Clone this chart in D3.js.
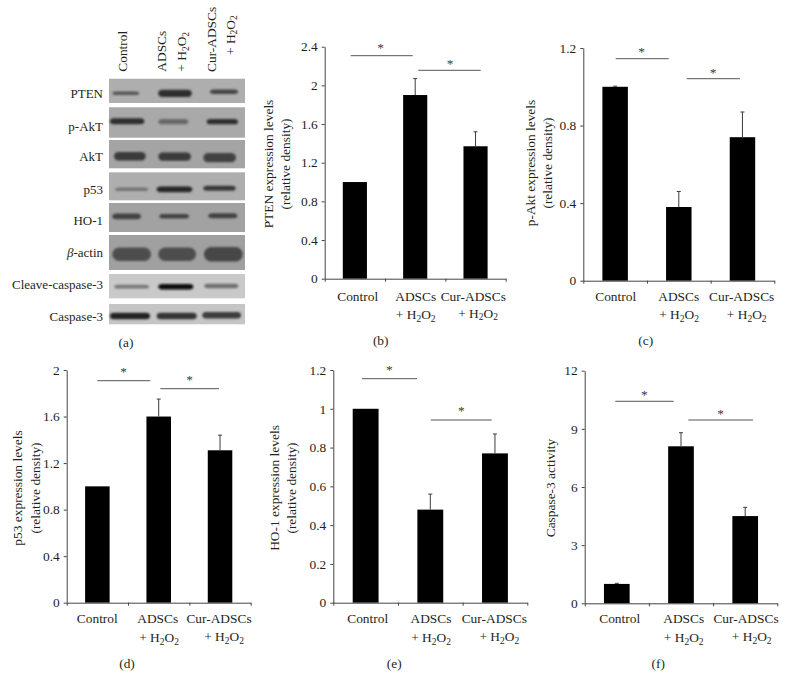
<!DOCTYPE html>
<html><head><meta charset="utf-8">
<script src="https://cdn.jsdelivr.net/npm/d3@7/dist/d3.min.js"></script>
<style>
html,body{margin:0;padding:0;background:#fff}
svg{display:block}
text{font-family:"Liberation Serif",serif;fill:#231f20;font-size:13.4px}
</style></head><body>
<svg id="c" width="786" height="679"></svg>
<script>
// ---------- data ----------
const categories = ["Control", "ADSCs", "Cur-ADSCs"];

const ptenValues = [1, 1.9, 1.37];
const ptenErrors = [0, 0.17, 0.15];
const ptenTicks = [0, 0.4, 0.8, 1.2, 1.6, 2, 2.4];

const aktValues = [1, 0.38, 0.74];
const aktErrors = [0.003, 0.08, 0.13];
const aktTicks = [0, 0.4, 0.8, 1.2];

const p53Values = [1, 1.6, 1.31];
const p53Errors = [0, 0.15, 0.13];
const p53Ticks = [0, 0.4, 0.8, 1.2, 1.6, 2];

const hoValues = [1, 0.48, 0.77];
const hoErrors = [0, 0.08, 0.1];
const hoTicks = [0, 0.2, 0.4, 0.6, 0.8, 1, 1.2];

const caspValues = [1, 8.1, 4.5];
const caspErrors = [0.03, 0.7, 0.45];
const caspTicks = [0, 3, 6, 9, 12];

const blotRows = ["PTEN", "p-AkT", "AkT", "p53", "HO-1", "β-actin", "Cleave-caspase-3", "Caspase-3"];
const blotIntensity = [
  [0.42, 0.72, 0.55],
  [0.72, 0.28, 0.72],
  [0.62, 0.62, 0.56],
  [0.2, 0.78, 0.64],
  [0.56, 0.56, 0.58],
  [0.48, 0.48, 0.54],
  [0.16, 1, 0.22],
  [0.8, 0.68, 0.6]
];

// ---------- layout ----------
const panels = [
 {id:"b",v:ptenValues,e:ptenErrors,t:ptenTicks,l:["PTEN expression levels","(relative density)"],
  x0:324.7,x1:505.7,y0:278.7,y1:46.7,lx:[268,285],ly:164,
  cat:[[357.7,300.7],[415.7,300.7],[473.3,300.7]],sub:[[415.7,319],[478,317.5]],
  sig:[[350.7,412.7,55.7,380.7,52],[418.3,480.7,70.3,450,68]],tag:[380.7,345]},
 {id:"c",v:aktValues,e:aktErrors,t:aktTicks,l:["p-Akt expression levels","(relative density)"],
  x0:583.3,x1:774.3,y0:280.7,y1:48,lx:[530,547],ly:163,
  cat:[[615.7,300.7],[678.7,300.7],[741.7,300.7]],sub:[[679,319],[746.7,319]],
  sig:[[615.7,668.7,58.7,641.7,55.5],[686.7,740,78.7,713,76.5]],tag:[645.7,345]},
 {id:"d",v:p53Values,e:p53Errors,t:p53Ticks,l:["p53 expression levels","(relative density)"],
  x0:66.7,x1:250.7,y0:602.7,y1:370,lx:[17,35],ly:488,
  cat:[[97.3,623.3],[157.7,623.3],[219,623.3]],sub:[[159,642],[224,641]],
  sig:[[97.3,150.3,380.7,123.7,376],[160.3,219,388.7,189.7,383.5]],tag:[127,668]},
 {id:"e",v:hoValues,e:hoErrors,t:hoTicks,l:["HO-1 expression levels","(relative density)"],
  x0:333.3,x1:527.3,y0:602.7,y1:370,lx:[274,291.7],ly:488,
  cat:[[367.7,623.3],[431,623.3],[494.3,623.3]],sub:[[431,642],[499.3,641]],
  sig:[[362,417,378.7,389.3,373.5],[430.7,491.7,420,461.3,415]],tag:[394.3,668]},
 {id:"f",v:caspValues,e:caspErrors,t:caspTicks,l:["Caspase-3 activity"],
  x0:584.7,x1:777.3,y0:603.3,y1:370.7,lx:[550],ly:488,
  cat:[[619.7,623.3],[683.7,623.3],[746,623.3]],sub:[[683.7,642],[751.7,641]],
  sig:[[615.3,673.7,401.3,644.3,398.5],[688.3,753,420,720.7,417.5]],tag:[658.3,668]}
];

const svg = d3.select("#c");

function h2o2(sel){
  sel.append("tspan").text("+ H");
  sel.append("tspan").attr("dy",2.5).style("font-size","9.5px").text("2");
  sel.append("tspan").attr("dy",-2.5).text("O");
  sel.append("tspan").attr("dy",2.5).style("font-size","9.5px").text("2");
}

panels.forEach(p=>{
  const g = svg.append("g").attr("id","panel-"+p.id);
  const x = d3.scaleBand().domain(categories).range([p.x0,p.x1]).paddingInner(0.6).paddingOuter(0.3);
  const y = d3.scaleLinear().domain([0,d3.max(p.t)]).range([p.y0,p.y1]);
  const xEdges = d3.scaleLinear().domain([0,3]).range([p.x0,p.x1]);

  // bars
  g.selectAll("rect.bar").data(p.v).join("rect").attr("class","bar")
    .attr("x",(d,i)=>x(categories[i])).attr("width",x.bandwidth())
    .attr("y",d=>y(d)).attr("height",d=>y(0)-y(d)).attr("fill","#000");

  // error bars
  const cx = i=>x(categories[i])+x.bandwidth()/2;
  p.e.forEach((err,i)=>{
    if(!err) return;
    const top=y(p.v[i]+err);
    g.append("line").attr("x1",cx(i)).attr("x2",cx(i)).attr("y1",y(p.v[i])).attr("y2",top).attr("stroke","#3c3c3c").attr("stroke-width",1);
    g.append("line").attr("x1",cx(i)-2).attr("x2",cx(i)+2).attr("y1",top).attr("y2",top).attr("stroke","#3c3c3c").attr("stroke-width",1);
  });

  // axes
  const ay = g.append("g").attr("transform",`translate(${p.x0},0)`)
    .call(d3.axisLeft(y).tickValues(p.t).tickSize(3).tickSizeOuter(0).tickPadding(4).tickFormat(d3.format("~g")));
  const ax = g.append("g").attr("transform",`translate(0,${p.y0})`)
    .call(d3.axisBottom(xEdges).tickValues([0,1,2,3]).tickSize(3).tickSizeOuter(0).tickFormat(""));
  [ay,ax].forEach(a=>{a.selectAll("path,line").attr("stroke","#444").attr("stroke-width",1);a.attr("font-family",null).attr("font-size",null);});

  // y title
  p.l.forEach((t,i)=>g.append("text").attr("text-anchor","middle")
    .attr("transform",`translate(${p.lx[i]+4.5},${p.ly}) rotate(-90)`).text(t));

  // categories
  p.cat.forEach((c,i)=>g.append("text").attr("x",c[0]).attr("y",c[1]).attr("text-anchor","middle").text(categories[i]));
  p.sub.forEach(c=>g.append("text").attr("x",c[0]).attr("y",c[1]).attr("text-anchor","middle").call(h2o2));

  // significance
  p.sig.forEach(s=>{
    g.append("line").attr("x1",s[0]).attr("x2",s[1]).attr("y1",s[2]).attr("y2",s[2]).attr("stroke","#555").attr("stroke-width",1);
    g.append("text").attr("x",s[3]).attr("y",s[4]).attr("text-anchor","middle").style("fill","#3a3a3a").text("*");
  });

  g.append("text").attr("x",p.tag[0]).attr("y",p.tag[1]).attr("text-anchor","middle").text(`(${p.id})`);
});

// ---------- blot panel (a) ----------
const blotBoxes = [[78.7,103,"#aeaeae",98],[107.3,137.7,"#a9a9a9",131],[140,168.3,"#a4a4a4",161],[172.3,200.3,"#aeaeae",194],
  [203,232,"#a2a2a2",225],[235,270,"#a0a0a0",257],[274,298.3,"#c9c9c9",289],[304,324.3,"#c5c5c5",321]];
const blotBands = [
 [[112.3,139.3,93.3,1.8],[158.3,191.7,93.3,3.6],[210,238,91.7,2.2]],
 [[110,144.3,121.3,3],[158.3,188.3,121.7,2.6],[206.7,238,121.7,2.6]],
 [[114,145.7,156.3,4.2],[158.3,191,156.6,4.2],[203.3,236,157.7,4.6]],
 [[115,148.3,189.3,1.8],[156.7,192.3,189.3,2.9],[203.3,235.7,188.3,2.5]],
 [[112.3,141,216.3,2.9],[159.3,189,216.3,2.2],[208.3,237.3,215.7,2.5]],
 [[112.3,151,254.3,6.7],[158.3,196,254.3,6.7],[204,242.7,254.3,7.2]],
 [[114.3,149,286.7,1.9],[158.3,193.3,286.7,2.7],[204.3,238.3,286,2.2]],
 [[110,150,316,3.2],[156.7,196.7,316,3.2],[202.3,241,315.3,3.2]]
];
const defs = svg.append("defs");
defs.append("filter").attr("id","soft").attr("x","-20%").attr("y","-100%").attr("width","140%").attr("height","300%")
  .append("feGaussianBlur").attr("stdDeviation",0.9);
const a = svg.append("g").attr("id","panel-a");
const gel = d3.scaleLinear().domain([0,1]).range([140,10]);
blotRows.forEach((name,r)=>{
  const b = blotBoxes[r];
  a.append("rect").attr("x",109).attr("width",136).attr("y",b[0]).attr("height",b[1]-b[0]).attr("fill",b[2]);
  blotIntensity[r].forEach((v,l)=>{
    const s=blotBands[r][l], c=Math.round(gel(v));
    a.append("rect").attr("x",s[0]).attr("width",s[1]-s[0]).attr("y",s[2]-s[3]).attr("height",2*s[3])
      .attr("rx",Math.max(s[3],4)).attr("ry",s[3])
      .attr("fill",`rgb(${c},${c},${c})`).attr("filter","url(#soft)");
  });
  const t=a.append("text").attr("x",103).attr("y",b[3]).attr("text-anchor","end").style("font-size","13px");
  if(name.startsWith("β")){ t.append("tspan").attr("font-style","italic").text("β"); t.append("tspan").text(name.slice(1)); }
  else t.text(name);
});
const tops=[[122.7+4.5,71.7,"Control"],[161+4.5,71.7,"ADSCs"],[211+4.5,72,"Cur-ADSCs"]];
tops.forEach(d=>a.append("text").attr("transform",`translate(${d[0]},${d[1]}) rotate(-90)`).text(d[2]));
[[181.7+4.5,71.7],[230+4.5,55]].forEach(d=>a.append("text").attr("transform",`translate(${d[0]},${d[1]}) rotate(-90)`).call(h2o2));
a.append("text").attr("x",126).attr("y",347).attr("text-anchor","middle").text("(a)");
</script>
</body></html>
